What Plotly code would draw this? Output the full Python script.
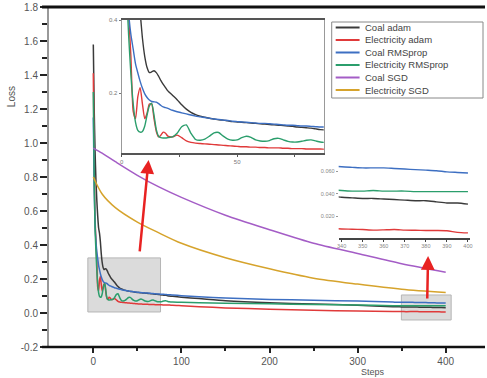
import plotly.graph_objects as go

# ---------------- data ----------------
steps = [0, 1, 2, 3, 4, 5, 6, 7, 8, 9, 10, 11, 12, 13, 14, 15, 16, 17, 18, 19, 20,
         22, 24, 26, 28, 30, 32, 34, 36, 38, 40, 42, 44, 46, 48, 50, 52, 54, 56, 58,
         60, 62, 64, 66, 68, 70, 72, 74, 76, 78, 80, 82, 84, 86, 88, 90,
         100, 120, 150, 200, 250, 300,
         340, 345, 350, 355, 360, 365, 370, 375, 380, 385, 390, 395, 400]

coal_adam = [1.58, 1.20, 0.95, 0.78, 0.66, 0.57, 0.50, 0.47, 0.42, 0.35, 0.30, 0.27, 0.256, 0.258, 0.261, 0.256, 0.246, 0.234, 0.224, 0.215, 0.206,
             0.194, 0.182, 0.168, 0.156, 0.147, 0.141, 0.137, 0.134, 0.131, 0.129, 0.127, 0.126, 0.124, 0.122, 0.121, 0.120, 0.119, 0.118, 0.117,
             0.116, 0.115, 0.114, 0.113, 0.112, 0.111, 0.110, 0.109, 0.107, 0.106, 0.105, 0.104, 0.102, 0.100, 0.099, 0.098,
             0.093, 0.085, 0.072, 0.060, 0.053, 0.046,
             0.037, 0.0365, 0.036, 0.036, 0.0355, 0.035, 0.0345, 0.034, 0.034, 0.033, 0.032, 0.032, 0.031]

elec_adam = [1.41, 0.85, 0.55, 0.42, 0.30, 0.15, 0.13, 0.19, 0.215, 0.17, 0.13, 0.145, 0.17, 0.17, 0.13, 0.095, 0.080, 0.085, 0.093, 0.090, 0.082,
             0.080, 0.085, 0.078, 0.069, 0.065, 0.063, 0.062, 0.061, 0.060, 0.059, 0.058, 0.057, 0.056, 0.055, 0.054, 0.053, 0.053, 0.052, 0.052,
             0.051, 0.051, 0.050, 0.050, 0.050, 0.049, 0.049, 0.048, 0.048, 0.048, 0.047, 0.047, 0.047, 0.047, 0.046, 0.046,
             0.043, 0.037, 0.030, 0.022, 0.016, 0.012,
             0.009, 0.0088, 0.0085, 0.008, 0.0082, 0.0085, 0.008, 0.0078, 0.0077, 0.0076, 0.0074, 0.006, 0.0055]

coal_rms = [1.15, 0.75, 0.52, 0.42, 0.36, 0.32, 0.28, 0.255, 0.232, 0.213, 0.198, 0.188, 0.181, 0.177, 0.176, 0.175, 0.171, 0.166, 0.162, 0.160, 0.158,
            0.153, 0.149, 0.146, 0.143, 0.140, 0.137, 0.135, 0.133, 0.131, 0.129, 0.128, 0.126, 0.125, 0.123, 0.122, 0.121, 0.120, 0.119, 0.118,
            0.117, 0.117, 0.116, 0.115, 0.114, 0.113, 0.112, 0.112, 0.111, 0.110, 0.110, 0.109, 0.108, 0.107, 0.107, 0.106,
            0.102, 0.095, 0.088, 0.080, 0.075, 0.070,
            0.064, 0.0635, 0.063, 0.063, 0.063, 0.0625, 0.062, 0.0615, 0.061, 0.0605, 0.0595, 0.059, 0.0585]

elec_rms = [1.30, 0.80, 0.50, 0.36, 0.25, 0.17, 0.12, 0.098, 0.093, 0.095, 0.110, 0.140, 0.165, 0.172, 0.140, 0.100, 0.082, 0.078, 0.077, 0.077, 0.078,
            0.080, 0.090, 0.108, 0.113, 0.090, 0.073, 0.071, 0.074, 0.082, 0.091, 0.092, 0.082, 0.074, 0.071, 0.072, 0.078, 0.082, 0.079, 0.072,
            0.069, 0.068, 0.070, 0.075, 0.076, 0.072, 0.068, 0.066, 0.066, 0.068, 0.071, 0.072, 0.069, 0.066, 0.065, 0.065,
            0.063, 0.060, 0.057, 0.054, 0.050, 0.047,
            0.043, 0.0425, 0.0425, 0.043, 0.0425, 0.0425, 0.0425, 0.042, 0.042, 0.042, 0.042, 0.042, 0.042]

sgd_steps = [0, 10, 25, 50, 75, 100, 150, 200, 250, 300, 350, 400]
coal_sgd = [0.97, 0.94, 0.89, 0.81, 0.74, 0.68, 0.575, 0.49, 0.41, 0.35, 0.29, 0.24]
elec_sgd = [0.80, 0.70, 0.62, 0.535, 0.47, 0.41, 0.325, 0.26, 0.205, 0.17, 0.14, 0.12]

series_names = ["Coal adam", "Electricity adam", "Coal RMSprop",
                "Electricity RMSprop", "Coal SGD", "Electricity SGD"]
series_colors = ["#3a3a3a", "#e03a3a", "#3d6fc2", "#2b9e6c", "#a45dc6", "#d6a32c"]

main_ticks = [0, 100, 200, 300, 400]
y_ticks = [-0.2, 0.0, 0.2, 0.4, 0.6, 0.8, 1.0, 1.2, 1.4, 1.6, 1.8]

# ---------------- figure ----------------
W, H = 487, 378
ML, MR, MT, MB = 49, 0, 7, 31
PW, PH = W - ML - MR, H - MT - MB


def px(xp):
    return (xp - ML) / PW


def py(yp):
    return (H - MB - yp) / PH


FONT = "Liberation Sans, Arial, sans-serif"
fig = go.Figure()

adam_rms = [coal_adam, elec_adam, coal_rms, elec_rms]
for vals, name, col in zip(adam_rms, series_names[:4], series_colors[:4]):
    fig.add_trace(go.Scatter(x=steps, y=vals, mode="lines", name=name,
                             line=dict(color=col, width=1.5, shape="spline", smoothing=0.6),
                             showlegend=False))
for vals, name, col in zip([coal_sgd, elec_sgd], series_names[4:], series_colors[4:]):
    fig.add_trace(go.Scatter(x=sgd_steps, y=vals, mode="lines", name=name,
                             line=dict(color=col, width=1.5, shape="spline", smoothing=0.8),
                             showlegend=False))

# zoomed views of the early and late steps
for ax in ("2", "3"):
    for vals, name, col in zip(adam_rms, series_names[:4], series_colors[:4]):
        fig.add_trace(go.Scatter(x=steps, y=vals, mode="lines", name=name,
                                 line=dict(color=col, width=1.4, shape="spline", smoothing=0.6),
                                 xaxis="x" + ax, yaxis="y" + ax, showlegend=False))

tickfont = dict(family=FONT, size=10, color="#555")
fig.update_layout(
    width=W, height=H,
    margin=dict(l=ML, r=MR, t=MT, b=MB),
    paper_bgcolor="white", plot_bgcolor="rgba(0,0,0,0)",
    xaxis=dict(range=[-50.3, 444.6], tickvals=main_ticks, ticks="outside", ticklen=5,
               tickwidth=2, tickcolor="#222", showgrid=False, zeroline=False,
               showline=False, tickfont=tickfont,
               minor=dict(tickvals=[50, 150, 250, 350], ticks="outside", ticklen=3,
                          tickwidth=1.5, tickcolor="#222")),
    yaxis=dict(range=[-0.2, 1.8], tickvals=y_ticks,
               ticktext=["%.1f" % v for v in y_ticks],
               ticks="outside", ticklen=7, tickwidth=2, tickcolor="#222",
               showgrid=False, zeroline=False, showline=True, linecolor="#999",
               linewidth=2, tickfont=tickfont,
               minor=dict(dtick=0.1, ticks="outside", ticklen=5, tickwidth=2,
                          tickcolor="#222")),
    xaxis2=dict(domain=[px(122), px(325)], anchor="y2", range=[0, 87.5],
                tickvals=[0, 50], ticks="outside", ticklen=2, tickcolor="#555",
                showline=True, linecolor="#555", linewidth=1.5, mirror=True,
                showgrid=False, zeroline=False,
                tickfont=dict(family=FONT, size=6, color="#777"),
                minor=dict(tickvals=[25, 75], ticks="outside", ticklen=2, tickcolor="#555")),
    yaxis2=dict(domain=[py(153), py(20)], anchor="x2", range=[0.036, 0.4],
                tickvals=[0.2, 0.4], ticktext=["0.2", "0.4"], ticks="outside", ticklen=2,
                tickcolor="#777", showline=True, linecolor="#999", linewidth=1.2,
                mirror=True, showgrid=False, zeroline=False,
                tickfont=dict(family=FONT, size=6, color="#777")),
    xaxis3=dict(domain=[px(340), px(472)], anchor="y3", range=[338.6, 401],
                tickvals=[340, 350, 360, 370, 380, 390, 400], ticks="outside", ticklen=2,
                tickcolor="#444", showline=True, linecolor="#444", linewidth=1.5,
                showgrid=False, zeroline=False,
                tickfont=dict(family=FONT, size=5.5, color="#888")),
    yaxis3=dict(domain=[py(238), py(160)], anchor="x3", range=[0.001, 0.070],
                tickvals=[0.0, 0.02, 0.04, 0.06], tickformat=".3f", ticks="outside",
                ticklen=2, tickcolor="#999", showline=False, showgrid=False,
                zeroline=False, tickfont=dict(family=FONT, size=5.5, color="#888")),
)

shapes = []
# highlighted regions of the main curves
shapes.append(dict(type="rect", xref="x", yref="y", x0=-6.2, x1=76.3, y0=0.006, y1=0.324,
                   fillcolor="rgba(195,195,195,0.6)", line=dict(color="#b5b5b5", width=1),
                   layer="below"))
shapes.append(dict(type="rect", xref="x", yref="y", x0=349.7, x1=406.2, y0=-0.041, y1=0.106,
                   fillcolor="rgba(195,195,195,0.6)", line=dict(color="#b5b5b5", width=1),
                   layer="below"))
# frame lines: thick top and bottom rules
shapes.append(dict(type="line", xref="paper", yref="paper", x0=px(42), x1=1, y0=1, y1=1,
                   line=dict(color="#111", width=3)))
shapes.append(dict(type="line", xref="paper", yref="paper", x0=px(42), x1=1, y0=0, y1=0,
                   line=dict(color="#111", width=2.5)))

# legend box
lx0, lx1, ly0, ly1 = 333, 485, 22, 98
shapes.append(dict(type="rect", xref="paper", yref="paper", x0=px(lx0), x1=px(lx1),
                   y0=py(ly1), y1=py(ly0), fillcolor="white",
                   line=dict(color="#888", width=1)))
annotations = []
entry_y = [27.5, 40, 52.5, 65, 77.5, 90]
for yy, name, col in zip(entry_y, series_names, series_colors):
    shapes.append(dict(type="line", xref="paper", yref="paper", x0=px(337), x1=px(361),
                       y0=py(yy), y1=py(yy), line=dict(color=col, width=2)))
    annotations.append(dict(xref="paper", yref="paper", x=px(364), y=py(yy), text=name,
                            showarrow=False, xanchor="left", yanchor="middle",
                            font=dict(family=FONT, size=9.5, color="#444")))

# axis titles
annotations.append(dict(xref="paper", yref="paper", x=px(12), y=py(97), text="Loss",
                        textangle=-90, showarrow=False, xanchor="center", yanchor="middle",
                        font=dict(family=FONT, size=10, color="#555")))
annotations.append(dict(xref="paper", yref="paper", x=px(374), y=py(378.5), text="Steps",
                        showarrow=False, xanchor="center", yanchor="bottom",
                        font=dict(family=FONT, size=9, color="#555")))

# red arrows pointing to the zoomed views
for tip, tail in (((62.7, 0.90), (52.5, 0.353)), ((380, 0.335), (379, 0.076))):
    annotations.append(dict(x=tip[0], y=tip[1], ax=tail[0], ay=tail[1], xref="x", yref="y",
                            axref="x", ayref="y", showarrow=True, arrowhead=2,
                            arrowsize=1.1, arrowwidth=2.5, arrowcolor="#e82222", text=""))

fig.update_layout(shapes=shapes, annotations=annotations)
fig.write_html("out.html")
